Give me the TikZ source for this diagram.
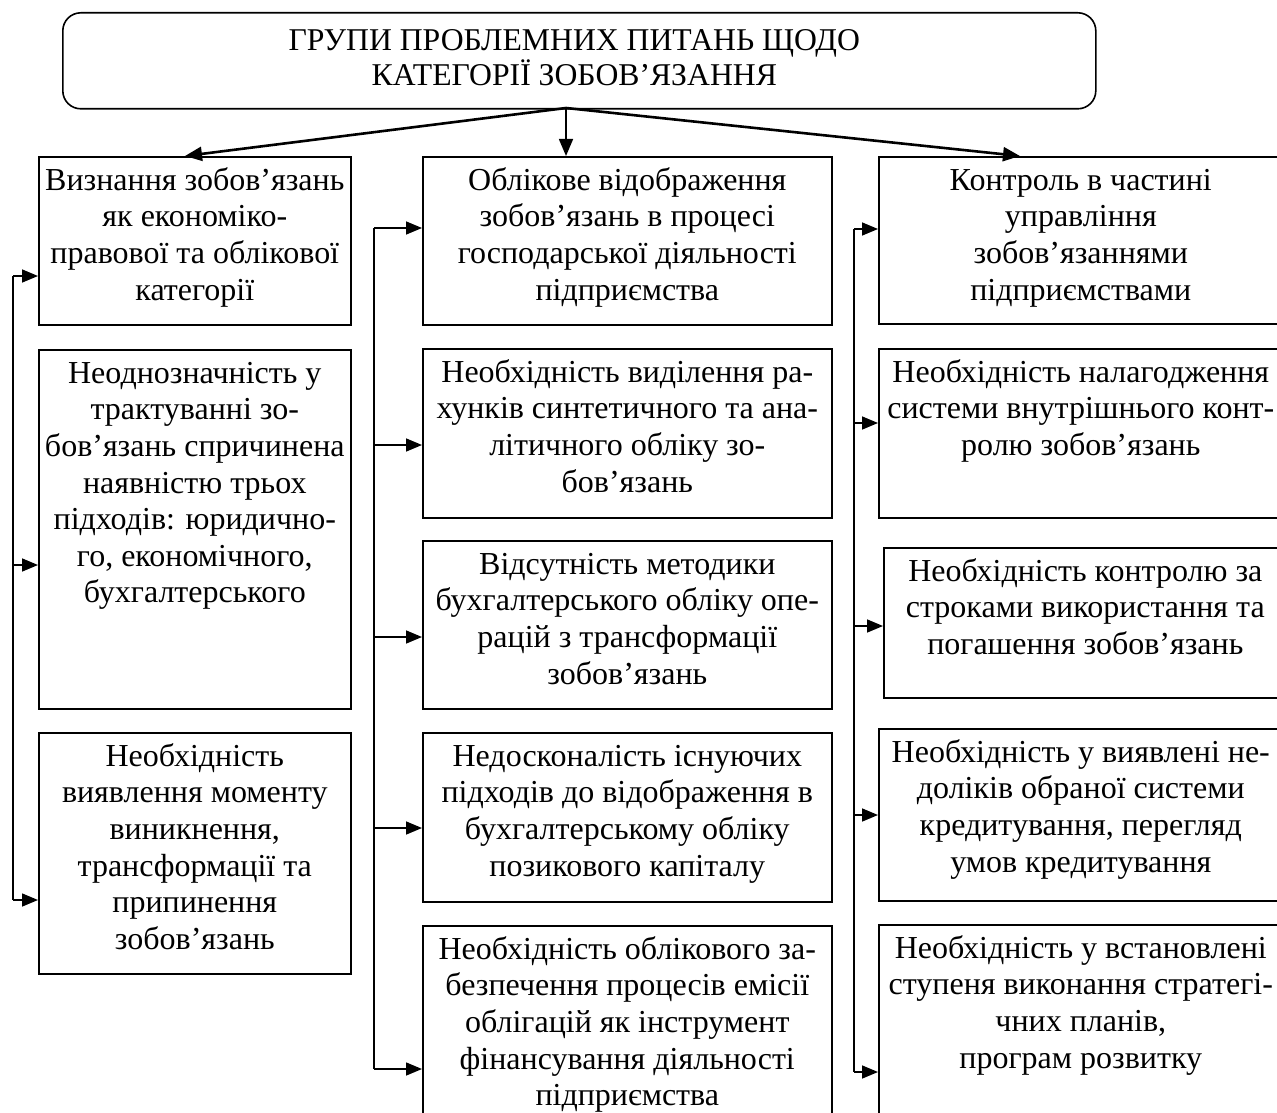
\documentclass[tikz,border=0pt]{standalone}
\usepackage{fontspec}
\setmainfont{Liberation Serif}
\usetikzlibrary{arrows.meta,calc}

\tikzset{
  box/.style={draw, line width=1.6pt, rectangle, inner sep=0pt, anchor=north west},
  headbox/.style={draw, line width=1.6pt, rounded corners=18pt, inner sep=0pt, anchor=north west},
  txt/.style={anchor=north, inner sep=0pt, align=center, font=\fontsize{32}{36.6}\selectfont},
  headtxt/.style={anchor=north, inner sep=0pt, align=center, font=\fontsize{31.7}{35}\selectfont},
  bus/.style={line width=1.6pt},
  feed/.style={line width=1.6pt, -{Triangle[length=16pt,width=13pt]}},
  fan/.style={line width=2.6pt, -{Triangle[length=17pt,width=14pt]}},
  fanthin/.style={line width=1.6pt, -{Triangle[length=17pt,width=14pt]}},
}

% box from (x1,y1) to (x2,y2), y measured downwards
\newcommand\mkbox[5]{\node[box, minimum width={(#4-#2)*1pt}, minimum height={(#5-#3)*1pt}] (#1) at (#2,#3) {};}
% text block hanging from the top edge of a box
\newcommand\mktext[2]{\node[txt] (#1-t) at ([yshift=-6pt]#1.north) {\rule{0pt}{28pt}#2};}

\begin{document}
\begin{tikzpicture}[x=1pt,y=-1pt]
\useasboundingbox (0,0) rectangle (1277,1113);
\clip (0,0) rectangle (1277,1113);

% title
\node[headbox, minimum width=1033pt, minimum height=96pt] (T) at (62,12) {};
\node[headtxt] (T-t) at ([xshift=-5pt,yshift=-10pt]T.north) {\rule{0pt}{28pt}ГРУПИ ПРОБЛЕМНИХ ПИТАНЬ ЩОДО\\КАТЕГОРІЇ ЗОБОВ’ЯЗАННЯ};

% left column
\mkbox{L1}{38}{156}{350}{324}
\mkbox{L2}{38}{349}{350}{708}
\mkbox{L3}{38}{732}{350}{973}
\mktext{L1}{Визнання зобов’язань\\як економіко-\\правової та облікової\\категорії}
\mktext{L2}{Неоднозначність у\\трактуванні зо-\\бов’язань спричинена\\наявністю трьох\\підходів: юридично-\\го, економічного,\\бухгалтерського}
\mktext{L3}{Необхідність\\виявлення моменту\\виникнення,\\трансформації та\\припинення\\зобов’язань}

% middle column
\mkbox{M1}{422}{156}{831}{324}
\mkbox{M2}{422}{348}{831}{517}
\mkbox{M3}{422}{540}{831}{708}
\mkbox{M4}{422}{732}{831}{901}
\mkbox{M5}{422}{925}{831}{1160}
\mktext{M1}{Облікове відображення\\зобов’язань в процесі\\господарської діяльності\\підприємства}
\mktext{M2}{Необхідність виділення ра-\\хунків синтетичного та ана-\\літичного обліку зо-\\бов’язань}
\mktext{M3}{Відсутність методики\\бухгалтерського обліку опе-\\рацій з трансформації\\зобов’язань}
\mktext{M4}{Недосконалість існуючих\\підходів до відображення в\\бухгалтерському обліку\\позикового капіталу}
\node[txt] (M5-t) at ([yshift=-6pt]M5.north |- 0,925) {\rule{0pt}{28pt}Необхідність облікового за-\\безпечення процесів емісії\\облігацій як інструмент\\фінансування діяльності\\підприємства};

% right column
\mkbox{R1}{878}{156}{1282}{323}
\mkbox{R2}{878}{348}{1282}{517}
\mkbox{R3}{883}{547}{1286}{697}
\mkbox{R4}{878}{728}{1282}{900}
\mkbox{R5}{878}{924}{1282}{1160}
\mktext{R1}{Контроль в частині\\управління\\зобов’язаннями\\підприємствами}
\mktext{R2}{Необхідність налагодження\\системи внутрішнього конт-\\ролю зобов’язань}
\mktext{R3}{Необхідність контролю за\\строками використання та\\погашення зобов’язань}
\mktext{R4}{Необхідність у виявлені не-\\доліків обраної системи\\кредитування, перегляд\\умов кредитування}
\node[txt] (R5-t) at ([yshift=-6pt]R5.north |- 0,924) {\rule{0pt}{28pt}Необхідність у встановлені\\ступеня виконання стратегі-\\чних планів,\\програм розвитку};

% fan-out from the title
\coordinate (hub) at (566,108);
\draw[fan] (hub) -- (185,156);
\draw[fanthin] (hub) -- (hub |- M1.north);
\draw[fan] (hub) -- (1020,156);

% left bus
\coordinate (lb1) at (13,276);
\coordinate (lb2) at (13,565);
\coordinate (lb3) at (13,900);
\draw[bus] (lb1) -- (lb3);
\draw[feed] (lb1) -- (lb1 -| L1.west);
\draw[feed] (lb2) -- (lb2 -| L2.west);
\draw[feed] (lb3) -- (lb3 -| L3.west);

% middle bus
\coordinate (mb1) at (374,228);
\coordinate (mb2) at (374,445);
\coordinate (mb3) at (374,637);
\coordinate (mb4) at (374,828);
\coordinate (mb5) at (374,1069);
\draw[bus] (mb1) -- (mb5);
\draw[feed] (mb1) -- (mb1 -| M1.west);
\draw[feed] (mb2) -- (mb2 -| M2.west);
\draw[feed] (mb3) -- (mb3 -| M3.west);
\draw[feed] (mb4) -- (mb4 -| M4.west);
\draw[feed] (mb5) -- (mb5 -| M5.west);

% right bus
\coordinate (rb1) at (854,229);
\coordinate (rb2) at (854,423);
\coordinate (rb3) at (854,626);
\coordinate (rb4) at (854,815);
\coordinate (rb5) at (854,1072);
\draw[bus] (rb1) -- (rb5);
\draw[feed] (rb1) -- (rb1 -| R1.west);
\draw[feed] (rb2) -- (rb2 -| R2.west);
\draw[feed] (rb3) -- (rb3 -| R3.west);
\draw[feed] (rb4) -- (rb4 -| R4.west);
\draw[feed] (rb5) -- (rb5 -| R5.west);
\end{tikzpicture}
\end{document}
